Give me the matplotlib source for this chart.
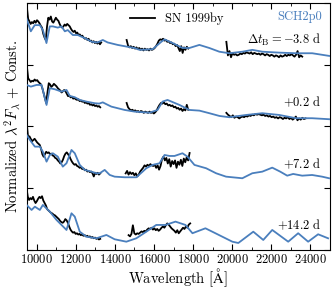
import numpy as np
import matplotlib
matplotlib.use('Agg')
import matplotlib.pyplot as plt
from matplotlib.ticker import MultipleLocator

plt.rcParams['font.family'] = 'serif'
plt.rcParams['font.serif'] = ['cmr10', 'DejaVu Serif']
plt.rcParams['mathtext.fontset'] = 'cm'
plt.rcParams['axes.formatter.use_mathtext'] = True
plt.rcParams['axes.unicode_minus'] = False

# ---------------- data ----------------
epochs = [r'$\Delta t_\mathrm{B} = -3.8\ \mathrm{d}$', r'$+0.2\ \mathrm{d}$',
          r'$+7.2\ \mathrm{d}$', r'$+14.2\ \mathrm{d}$']
offsets = [3, 2, 1, 0]

# model (SCH2p0) spectra
model_wl_1 = [9480, 9700, 9900, 10160, 10320, 10500, 10670, 10830, 11080, 11270, 11440, 11590,
              11850, 12100, 12460, 12820, 13120, 13380, 13630, 14140, 14650, 15010, 15260, 15930,
              16370, 16540, 16950, 17460, 17810, 18320, 18830, 19340, 19850, 20520, 21030, 21540,
              22400, 23270, 24090, 25000]
model_fl_1 = [0.75, 0.54, 0.64, 0.64, 0.56, 0.35, 0.62, 0.62, 0.60, 0.62, 0.54, 0.56,
              0.48, 0.48, 0.43, 0.37, 0.36, 0.40, 0.36, 0.32, 0.29, 0.27, 0.24, 0.25,
              0.37, 0.41, 0.35, 0.27, 0.27, 0.32, 0.27, 0.21, 0.185, 0.21, 0.24, 0.21,
              0.195, 0.185, 0.185, 0.14]

model_wl_2 = [9485, 9704, 9995, 10250, 10505, 10673, 10928, 11270, 11525, 11693, 11948, 12203,
              12545, 12968, 13200, 13380, 13630, 13820, 14498, 15008, 15773, 16181, 16436, 16691,
              17303, 17813, 18323, 18833, 19343, 19853, 20720, 21536, 22403, 23270, 24086, 24953]
model_fl_2 = [0.672, 0.645, 0.672, 0.672, 0.348, 0.619, 0.602, 0.564, 0.591, 0.494, 0.473, 0.429,
              0.402, 0.376, 0.37, 0.39, 0.35, 0.321, 0.267, 0.240, 0.223, 0.267, 0.402, 0.429,
              0.348, 0.267, 0.256, 0.214, 0.170, 0.149, 0.186, 0.214, 0.186, 0.133, 0.133, 0.117]

model_wl_3 = [9485, 9653, 9908, 10163, 10316, 10505, 10673, 10826, 11081, 11336, 11525, 11780,
              11948, 12203, 12458, 12800, 13055, 13223, 13478, 13733, 13988, 14498, 15095, 15416,
              15605, 15926, 16283, 16538, 16793, 17048, 17456, 17711, 18068, 18665, 19175, 19685,
              20516, 21026, 21536, 22046, 22454, 22811, 23117, 23576, 24086, 24596, 24953]
model_fl_3 = [0.862, 0.781, 0.673, 0.673, 0.592, 0.430, 0.538, 0.566, 0.511, 0.349, 0.404, 0.619,
              0.566, 0.377, 0.296, 0.268, 0.242, 0.242, 0.296, 0.215, 0.187, 0.177, 0.177, 0.268,
              0.323, 0.377, 0.404, 0.538, 0.522, 0.522, 0.566, 0.511, 0.377, 0.323, 0.242, 0.187,
              0.161, 0.242, 0.268, 0.333, 0.268, 0.203, 0.231, 0.203, 0.214, 0.187, 0.161]

model_wl_4 = [9485, 9740, 9908, 10163, 10316, 10673, 11015, 11270, 11525, 11780, 11948, 12203,
              12545, 13055, 13565, 13988, 14585, 15095, 15605, 16115, 16589, 17099, 17609, 17966,
              18629, 19139, 20006, 20312, 21077, 21587, 22046, 22862, 23372, 23882, 24392, 24902]
model_fl_4 = [0.729, 0.648, 0.701, 0.648, 0.729, 0.620, 0.486, 0.405, 0.324, 0.594, 0.540, 0.296,
              0.215, 0.189, 0.243, 0.173, 0.134, 0.189, 0.296, 0.405, 0.405, 0.459, 0.405, 0.271,
              0.351, 0.271, 0.134, 0.113, 0.296, 0.162, 0.324, 0.134, 0.271, 0.134, 0.254, 0.189]

# observed (SN 1999by) spectra: wavelength ranges of segments and flux samples
obs_ranges_1 = [(9500, 13300), (14600, 17750), (19700, 23580)]
obs_fl_1a = [0.93, 0.74, 0.70, 0.66, 0.69, 0.67, 0.71, 0.68, 0.72, 0.70, 0.67, 0.63, 0.60, 0.50,
             0.44, 0.40, 0.62, 0.76, 0.73, 0.78, 0.70, 0.68, 0.72, 0.76, 0.73, 0.71, 0.66, 0.62,
             0.60, 0.62, 0.65, 0.63, 0.66, 0.64, 0.62, 0.58, 0.55, 0.53, 0.55, 0.51, 0.52, 0.48,
             0.49, 0.46, 0.47, 0.44, 0.42, 0.43, 0.40, 0.42, 0.38, 0.39, 0.36, 0.38, 0.35, 0.37,
             0.34, 0.37, 0.33, 0.36]
obs_fl_1b = [0.40, 0.31, 0.28, 0.30, 0.27, 0.29, 0.26, 0.28, 0.25, 0.27, 0.24, 0.26, 0.23, 0.26,
             0.24, 0.25, 0.23, 0.26, 0.24, 0.25, 0.27, 0.30, 0.34, 0.39, 0.41, 0.40, 0.42, 0.39,
             0.40, 0.37, 0.38, 0.35, 0.36, 0.33, 0.34, 0.30, 0.32, 0.27, 0.22, 0.30, 0.19, 0.28,
             0.24, 0.29, 0.26]
obs_fl_1c = [0.37, 0.15, 0.22, 0.12, 0.19, 0.16, 0.17, 0.15, 0.16, 0.18, 0.17, 0.19, 0.18, 0.20,
             0.19, 0.18, 0.20, 0.17, 0.19, 0.18, 0.17, 0.18, 0.16, 0.18, 0.17, 0.15, 0.17, 0.16,
             0.14, 0.16, 0.15, 0.13, 0.15, 0.14, 0.12, 0.15, 0.13, 0.14, 0.16, 0.14, 0.16, 0.15,
             0.17, 0.15, 0.13, 0.16, 0.22, 0.12, 0.15, 0.13]

obs_ranges_2 = [(9500, 13250), (14600, 17750), (19700, 23750)]
obs_fl_2a = [0.97, 0.78, 0.75, 0.72, 0.74, 0.73, 0.76, 0.74, 0.75, 0.72, 0.70, 0.68, 0.62, 0.54,
             0.46, 0.38, 0.55, 0.70, 0.68, 0.64, 0.66, 0.69, 0.67, 0.65, 0.62, 0.60, 0.58, 0.55,
             0.57, 0.59, 0.57, 0.53, 0.49, 0.50, 0.47, 0.48, 0.45, 0.46, 0.44, 0.43, 0.44, 0.41,
             0.42, 0.40, 0.41, 0.38, 0.39, 0.37, 0.38, 0.35, 0.36, 0.34, 0.35, 0.33, 0.34, 0.32,
             0.33, 0.31]
obs_fl_2b = [0.38, 0.31, 0.28, 0.26, 0.27, 0.25, 0.26, 0.24, 0.25, 0.23, 0.25, 0.24, 0.22, 0.24,
             0.23, 0.22, 0.24, 0.22, 0.23, 0.21, 0.23, 0.26, 0.31, 0.35, 0.38, 0.37, 0.39, 0.36,
             0.37, 0.34, 0.35, 0.33, 0.34, 0.31, 0.32, 0.29, 0.30, 0.27, 0.29, 0.25, 0.28, 0.26,
             0.35, 0.27]
obs_fl_2c = [0.22, 0.19, 0.17, 0.15, 0.18, 0.14, 0.16, 0.15, 0.13, 0.15, 0.16, 0.15, 0.17, 0.16,
             0.18, 0.17, 0.19, 0.18, 0.20, 0.19, 0.20, 0.19, 0.18, 0.19, 0.17, 0.18, 0.16, 0.17,
             0.15, 0.16, 0.14, 0.15, 0.13, 0.15, 0.14, 0.12, 0.14, 0.13, 0.15, 0.12, 0.14, 0.11,
             0.13, 0.16, 0.10, 0.13, 0.11, 0.14, 0.12, 0.13]

obs_ranges_3 = [(9500, 13250), (14550, 17820)]
obs_fl_3a = [1.02, 0.81, 0.84, 0.80, 0.76, 0.78, 0.80, 0.77, 0.74, 0.72, 0.70, 0.64, 0.55, 0.51,
             0.55, 0.59, 0.57, 0.58, 0.55, 0.56, 0.53, 0.52, 0.49, 0.48, 0.45, 0.43, 0.40, 0.42,
             0.46, 0.52, 0.56, 0.58, 0.55, 0.52, 0.47, 0.43, 0.40, 0.38, 0.39, 0.36, 0.35, 0.33,
             0.34, 0.31, 0.32, 0.29, 0.30, 0.27, 0.28, 0.26, 0.27, 0.24, 0.19, 0.25, 0.23, 0.25,
             0.22, 0.24]
obs_fl_3b = [0.24, 0.28, 0.22, 0.26, 0.23, 0.25, 0.21, 0.24, 0.19, 0.22, 0.27, 0.30, 0.33, 0.37,
             0.35, 0.38, 0.36, 0.39, 0.37, 0.36, 0.38, 0.33, 0.37, 0.30, 0.36, 0.47, 0.51, 0.45,
             0.49, 0.40, 0.47, 0.35, 0.44, 0.39, 0.45, 0.33, 0.43, 0.38, 0.46, 0.36, 0.48, 0.42,
             0.50, 0.45, 0.57]

obs_ranges_4 = [(9480, 13250), (14700, 17850)]
obs_fl_4a = [1.00, 0.86, 0.81, 0.84, 0.82, 0.86, 0.80, 0.76, 0.79, 0.83, 0.86, 0.84, 0.87, 0.80,
             0.76, 0.72, 0.66, 0.64, 0.62, 0.60, 0.59, 0.57, 0.56, 0.54, 0.52, 0.50, 0.47, 0.45,
             0.44, 0.46, 0.50, 0.48, 0.44, 0.38, 0.33, 0.30, 0.28, 0.29, 0.26, 0.27, 0.25, 0.26,
             0.24, 0.25, 0.23, 0.24, 0.22, 0.23, 0.21, 0.22, 0.20, 0.21, 0.19, 0.20, 0.18, 0.19,
             0.17, 0.18]
obs_fl_4b = [0.24, 0.22, 0.26, 0.40, 0.27, 0.25, 0.27, 0.26, 0.28, 0.30, 0.29, 0.31, 0.30, 0.33,
             0.35, 0.34, 0.36, 0.33, 0.35, 0.32, 0.34, 0.31, 0.33, 0.36, 0.38, 0.36, 0.40, 0.43,
             0.41, 0.38, 0.35, 0.33, 0.31, 0.28, 0.32, 0.27, 0.30, 0.33, 0.36, 0.34, 0.38, 0.36,
             0.41, 0.43]

models = [(model_wl_1, model_fl_1), (model_wl_2, model_fl_2),
          (model_wl_3, model_fl_3), (model_wl_4, model_fl_4)]
observations = [(obs_ranges_1, [obs_fl_1a, obs_fl_1b, obs_fl_1c]),
                (obs_ranges_2, [obs_fl_2a, obs_fl_2b, obs_fl_2c]),
                (obs_ranges_3, [obs_fl_3a, obs_fl_3b]),
                (obs_ranges_4, [obs_fl_4a, obs_fl_4b])]

BLUE = '#4a7fbd'

# ---------------- plot ----------------
fig = plt.figure(figsize=(3.32, 2.91), dpi=100)
ax = fig.add_axes([0.081, 0.141, 0.913, 0.849])

for (mwl, mfl), (ranges, segs), off in zip(models, observations, offsets):
    for (w0, w1), fl in zip(ranges, segs):
        wl = np.linspace(w0, w1, len(fl))
        ax.plot(wl, np.asarray(fl) + off, color='black', lw=1.3, zorder=2)
    ax.plot(mwl, np.asarray(mfl) + off, color=BLUE, lw=1.3, zorder=3,
            solid_joinstyle='round')

for lab, off in zip(epochs, offsets):
    ax.text(24550, off + 0.40, lab, ha='right', va='center', fontsize=9)

ax.plot([], [], color='black', lw=1.3, label='SN 1999by')
ax.legend(loc='upper left', bbox_to_anchor=(0.31, 1.0), frameon=False, fontsize=9,
          handlelength=2.0, handletextpad=0.8, borderaxespad=0.35)
ax.text(0.975, 0.945, 'SCH2p0', color=BLUE, transform=ax.transAxes, ha='right', va='center',
        fontsize=9)

ax.set_xlim(9500, 25000)
ax.set_ylim(0, 4)
ax.xaxis.set_major_locator(MultipleLocator(2000))
ax.xaxis.set_minor_locator(MultipleLocator(1000))
ax.yaxis.set_major_locator(MultipleLocator(1))
ax.set_yticklabels([])
ax.tick_params(which='both', direction='in', top=True, right=True, labelsize=9, pad=2.5)
ax.tick_params(which='major', length=4, width=0.8)
ax.tick_params(which='minor', length=2.5, width=0.6)
ax.set_xlabel(r'Wavelength [$\mathrm{\AA}$]', fontsize=10.5, labelpad=0)
ax.set_ylabel(r'Normalized $\lambda^2 F_\lambda$ + Const.', fontsize=10.5, labelpad=1)

fig.savefig('out.png', dpi=100)
